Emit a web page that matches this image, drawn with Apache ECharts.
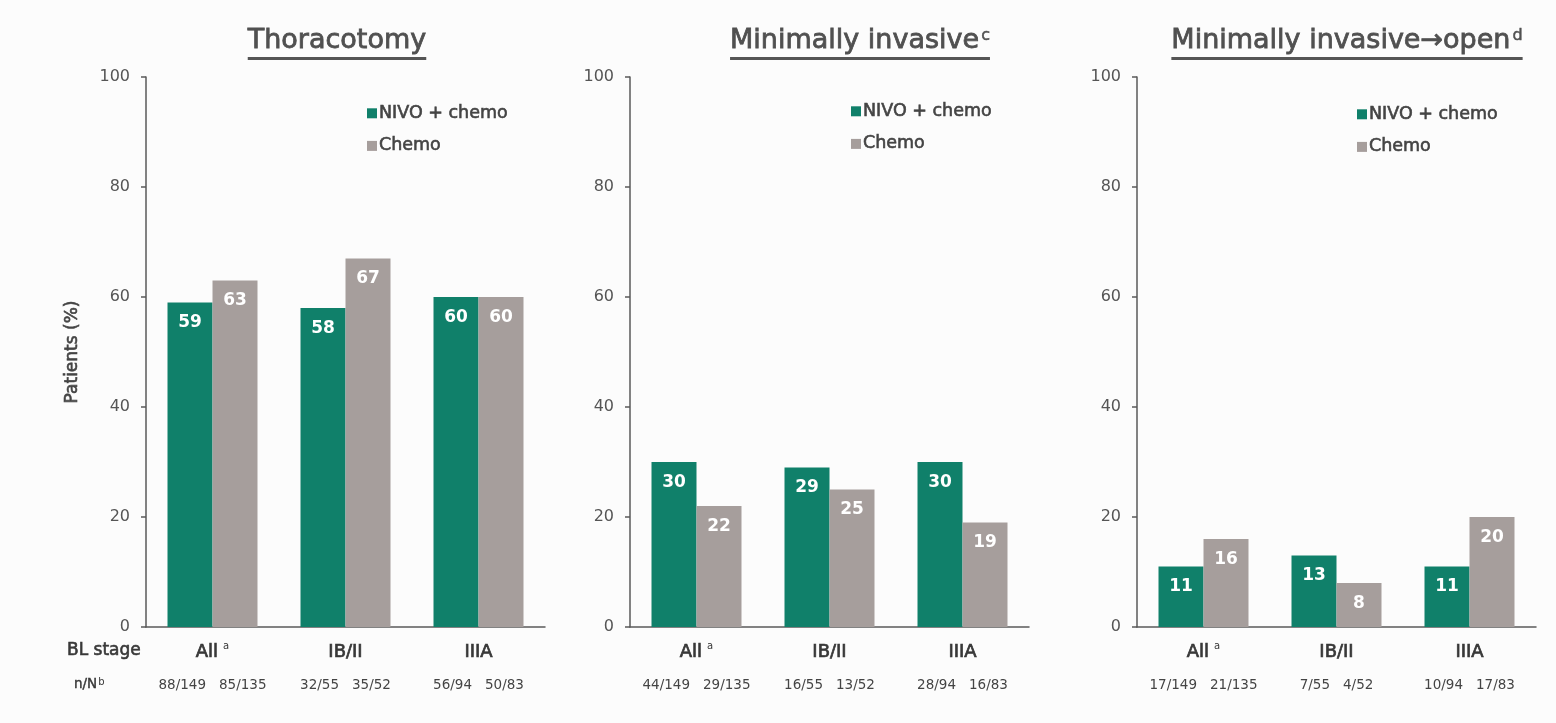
<!DOCTYPE html>
<html>
<head>
<meta charset="utf-8">
<title>Surgical approach by treatment arm</title>
<script src="https://cdn.jsdelivr.net/npm/echarts@6/dist/echarts.min.js"></script>
<style>
  html, body { margin: 0; padding: 0; background: #fcfcfc; }
  #chart { width: 1556px; height: 723px; }
</style>
</head>
<body>
<div id="chart"></div>
<script>
// ---- data ----
const categories = ['All', 'IB/II', 'IIIA'];
const categorySups = ['a', '', ''];
const seriesNames = ['NIVO + chemo', 'Chemo'];
const yTicks = [0, 20, 40, 60, 80, 100];

const panelTitles = ['Thoracotomy', 'Minimally invasive', 'Minimally invasive\u2192open'];
const panelTitleSups = ['', 'c', 'd'];

// Patients (%) per baseline stage
const thoracotomyNivo = [59, 58, 60];
const thoracotomyChemo = [63, 67, 60];
const minInvasiveNivo = [30, 29, 30];
const minInvasiveChemo = [22, 25, 19];
const convertedNivo = [11, 13, 11];
const convertedChemo = [16, 8, 20];

// n/N under each bar
const thoracotomyNivoN = ['88/149', '32/55', '56/94'];
const thoracotomyChemoN = ['85/135', '35/52', '50/83'];
const minInvasiveNivoN = ['44/149', '16/55', '28/94'];
const minInvasiveChemoN = ['29/135', '13/52', '16/83'];
const convertedNivoN = ['17/149', '7/55', '10/94'];
const convertedChemoN = ['21/135', '4/52', '17/83'];

// ---- layout & style ----
const FONT = '"DejaVu Sans", Verdana, sans-serif';
const GREEN = '#10806A';
const GREY = '#A69E9C';
const AXIS = '#5a5a5a';
const TEXT = '#444';
const DARK = '#383838';

// a light stroke in the text colour gives the medium weight used for headings
function medium(color, w) {
  return { color: color, textBorderColor: color, textBorderWidth: w || 0.6 };
}

const panels = [
  { nivo: thoracotomyNivo, chemo: thoracotomyChemo, nivoN: thoracotomyNivoN, chemoN: thoracotomyChemoN,
    gridLeft: 146, legendLeft: 362, legendTop: 99, titleX: 337 },
  { nivo: minInvasiveNivo, chemo: minInvasiveChemo, nivoN: minInvasiveNivoN, chemoN: minInvasiveChemoN,
    gridLeft: 630, legendLeft: 846, legendTop: 97, titleX: 860 },
  { nivo: convertedNivo, chemo: convertedChemo, nivoN: convertedNivoN, chemoN: convertedChemoN,
    gridLeft: 1137, legendLeft: 1352, legendTop: 100, titleX: 1347 }
];
const GRID_W = 399, GRID_TOP = 77, GRID_H = 550;
const TITLE_SIZE = 27, TITLE_SUP_SIZE = 16;

function textWidth(str, size) {
  const ctx = document.createElement('canvas').getContext('2d');
  ctx.font = size + 'px ' + FONT;
  return ctx.measureText(str).width;
}

const grids = [], xAxes = [], yAxes = [], series = [], legends = [], titles = [], graphics = [];

panels.forEach((p, i) => {
  grids.push({ left: p.gridLeft, top: GRID_TOP, width: GRID_W, height: GRID_H });

  // category labels: stage name (+ superscript) and a second line with n/N per bar
  const catLabels = categories.map((c, k) => {
    const sup = categorySups[k] ? '{s|' + categorySups[k] + '}' : '';
    return '{c|' + c + '}' + sup + '\n{n|' + p.nivoN[k] + '}{g|}{n|' + p.chemoN[k] + '}';
  });

  xAxes.push({
    type: 'category', gridIndex: i, data: catLabels,
    axisLine: { lineStyle: { color: AXIS, width: 1.5 } },
    axisTick: { show: false },
    axisLabel: {
      margin: 14, interval: 0,
      rich: {
        c: Object.assign({ fontFamily: FONT, fontSize: 18, lineHeight: 22 }, medium(DARK, 0.7)),
        s: { fontFamily: FONT, fontSize: 10, color: DARK, lineHeight: 22, verticalAlign: 'top', padding: [0, 0, 8, 5] },
        n: { fontFamily: FONT, fontSize: 13.5, color: TEXT, lineHeight: 44 },
        g: { width: 13 }
      }
    }
  });

  yAxes.push({
    type: 'value', gridIndex: i, min: yTicks[0], max: yTicks[yTicks.length - 1], interval: 20,
    name: i === 0 ? 'Patients (%)' : '',
    nameLocation: 'middle', nameGap: 65, nameRotate: 90,
    nameTextStyle: Object.assign({ fontFamily: FONT, fontSize: 17 }, medium(TEXT, 0.6)),
    axisLine: { show: true, lineStyle: { color: AXIS, width: 1.5 } },
    axisTick: { show: true, length: 5, lineStyle: { color: AXIS, width: 1.5 } },
    axisLabel: { fontFamily: FONT, fontSize: 16, color: '#555', margin: 16 },
    splitLine: { show: false }
  });

  [p.nivo, p.chemo].forEach((vals, s) => {
    series.push({
      type: 'bar', name: seriesNames[s], xAxisIndex: i, yAxisIndex: i,
      data: vals, barWidth: 45, barGap: '0%',
      itemStyle: { color: s === 0 ? GREEN : GREY },
      label: {
        show: true, position: 'insideTop', distance: 12,
        color: '#fff', fontFamily: FONT, fontSize: 17, fontWeight: 'bold'
      }
    });
  });

  legends.push({
    data: seriesNames, orient: 'vertical', left: p.legendLeft, top: p.legendTop,
    icon: 'rect', itemWidth: 10, itemHeight: 10, itemGap: 14,
    selectedMode: false,
    textStyle: Object.assign({ fontFamily: FONT, fontSize: 17.5, padding: [0, 0, 0, -3] }, medium(TEXT, 0.6))
  });

  const sup = panelTitleSups[i];
  titles.push({
    text: '{m|' + panelTitles[i] + '}' + (sup ? '{s|' + sup + '}' : ''),
    left: p.titleX, top: 25, textAlign: 'center', padding: 0,
    textStyle: {
      fontWeight: 'normal',
      rich: {
        m: Object.assign({ fontFamily: FONT, fontSize: TITLE_SIZE, fontWeight: 'normal', lineHeight: 32 }, medium('#505050', 0.8)),
        s: Object.assign({ fontFamily: FONT, fontSize: TITLE_SUP_SIZE, fontWeight: 'normal', lineHeight: 16, verticalAlign: 'top', padding: [3, 0, 0, 2] }, medium('#505050', 0.5))
      }
    }
  });

  // underline beneath each panel title
  const w = textWidth(panelTitles[i], TITLE_SIZE) + (sup ? textWidth(sup, TITLE_SUP_SIZE) + 2 : 0);
  graphics.push({
    type: 'rect', shape: { x: p.titleX - w / 2, y: 57, width: w, height: 3 },
    style: { fill: '#555' }, silent: true
  });
});

// row headers at the left of the first panel
graphics.push({
  type: 'text', x: 67, y: 651,
  style: { text: 'BL stage', fontFamily: FONT, fontSize: 17, fill: DARK, stroke: DARK, lineWidth: 0.6, verticalAlign: 'middle' }
});
graphics.push({
  type: 'text', x: 74, y: 684,
  style: {
    text: '{n|n/N}{s|b}', verticalAlign: 'middle',
    rich: {
      n: { fontFamily: FONT, fontSize: 13.5, fill: DARK, stroke: DARK, lineWidth: 0.4 },
      s: { fontFamily: FONT, fontSize: 10, fill: DARK, verticalAlign: 'top', padding: [0, 0, 4, 1] }
    }
  }
});

const chart = echarts.init(document.getElementById('chart'), null, { renderer: 'canvas' });
chart.setOption({
  backgroundColor: '#fcfcfc',
  animation: false,
  title: titles,
  legend: legends,
  grid: grids,
  xAxis: xAxes,
  yAxis: yAxes,
  series: series,
  graphic: graphics
});
</script>
</body>
</html>
